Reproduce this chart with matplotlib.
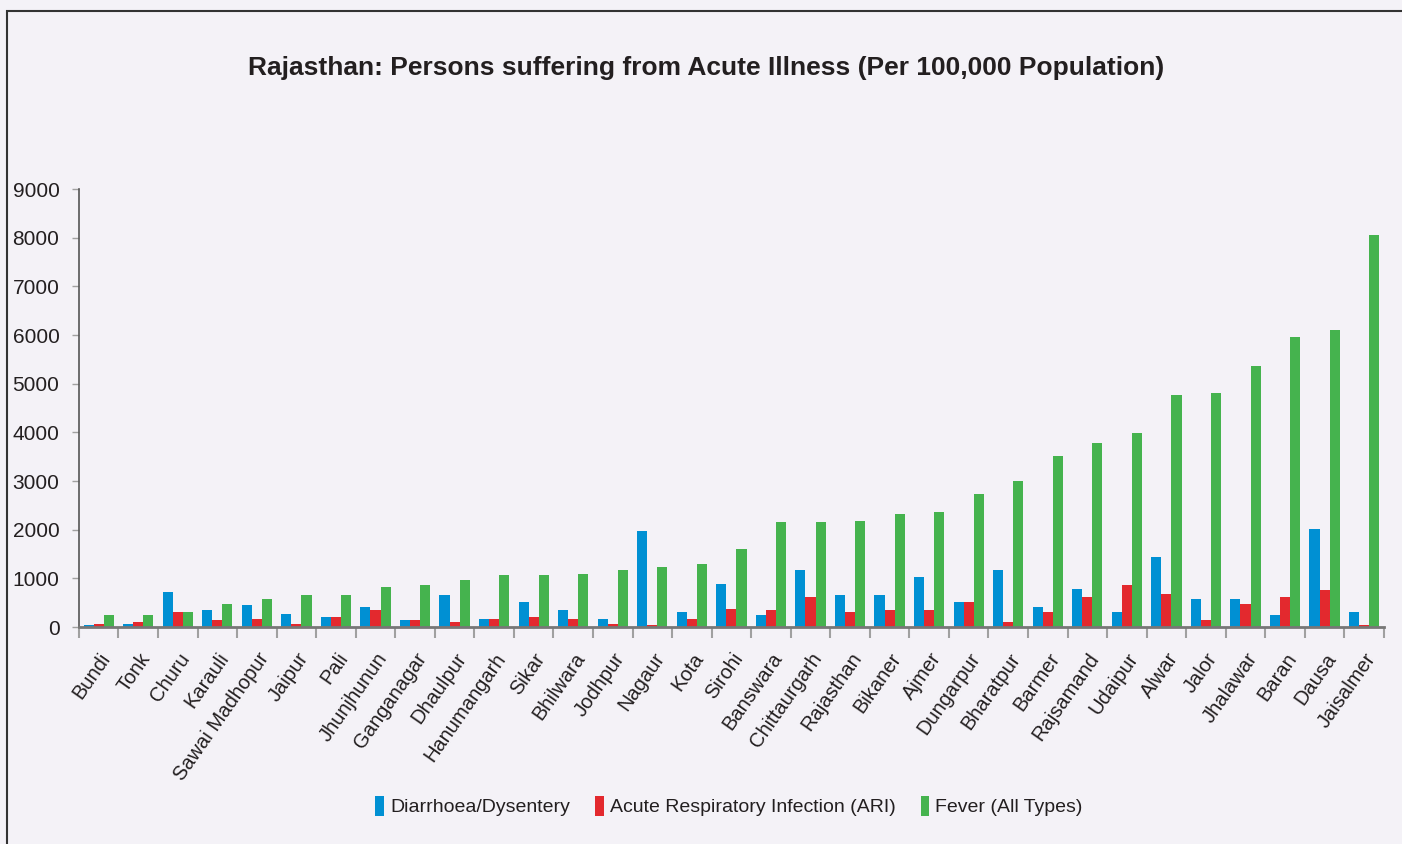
import matplotlib
matplotlib.use("Agg")
import matplotlib.pyplot as plt
import matplotlib.transforms as mtransforms
from matplotlib.patches import Rectangle
import numpy as np

# districts, sorted by fever rate
districts = ["Bundi", "Tonk", "Churu", "Karauli", "Sawai Madhopur", "Jaipur", "Pali",
             "Jhunjhunun", "Ganganagar", "Dhaulpur", "Hanumangarh", "Sikar", "Bhilwara",
             "Jodhpur", "Nagaur", "Kota", "Sirohi", "Banswara", "Chittaurgarh", "Rajasthan",
             "Bikaner", "Ajmer", "Dungarpur", "Bharatpur", "Barmer", "Rajsamand", "Udaipur",
             "Alwar", "Jalor", "Jhalawar", "Baran", "Dausa", "Jaisalmer"]

diarrhoea = [35, 55, 710, 340, 445, 260, 200, 405, 140, 650, 160, 510, 340, 160, 1970,
             300, 880, 240, 1165, 650, 650, 1020, 510, 1165, 405, 775, 300, 1430, 570,
             570, 240, 2010, 300]
ari = [55, 95, 300, 140, 160, 55, 200, 340, 140, 95, 160, 200, 160, 55, 35,
       160, 365, 340, 610, 300, 340, 340, 510, 95, 300, 610, 860, 670, 140,
       465, 610, 755, 35]
fever = [240, 240, 300, 465, 570, 650, 650, 815, 855, 960, 1065, 1065, 1080, 1165, 1225,
         1290, 1595, 2150, 2150, 2170, 2315, 2355, 2725, 2995, 3510, 3780, 3985, 4765, 4805,
         5360, 5955, 6100, 8050]

series_names = ["Diarrhoea/Dysentery", "Acute Respiratory Infection (ARI)", "Fever (All Types)"]
colors = ["#0090d3", "#e3292e", "#45b34e"]

bg = "#f4f2f7"
txt = "#231f20"
sans = ["Liberation Sans", "DejaVu Sans"]

fig = plt.figure(figsize=(14.02, 8.44), dpi=100, facecolor=bg)
ax = fig.add_axes([0.0563, 0.2571, 0.9308, 0.5189])
ax.set_facecolor(bg)

x = np.arange(len(districts))
w = 0.255
for i, vals in enumerate([diarrhoea, ari, fever]):
    ax.bar(x + (i - 1) * w, vals, width=w, color=colors[i], label=series_names[i], zorder=2)

ax.set_xlim(-0.5, len(districts) - 0.5)
ax.set_ylim(0, 9000)
ax.set_yticks(np.arange(0, 9001, 1000))
ax.set_yticklabels([str(v) for v in range(0, 9001, 1000)], family=sans, fontsize=15, color=txt)

ax.set_xticks(x)
ax.set_xticklabels(districts, rotation=55, ha="right", rotation_mode="anchor",
                   family=sans, fontsize=14.5, color=txt)
shift = mtransforms.ScaledTranslation(-6 / 100, 0, fig.dpi_scale_trans)
for lab in ax.get_xticklabels():
    lab.set_transform(lab.get_transform() + shift)
ax.set_xticks(np.arange(-0.5, len(districts), 1), minor=True)
ax.tick_params(axis="x", which="major", length=0, pad=16)
ax.tick_params(axis="x", which="minor", length=8, width=1.5, color="#a0a0a0")
ax.tick_params(axis="y", length=5, width=1, color="#a0a0a0", pad=9)

for s in ["top", "right"]:
    ax.spines[s].set_visible(False)
ax.spines["left"].set_color("#555555")
ax.spines["left"].set_linewidth(1.2)
ax.spines["bottom"].set_color("#777777")
ax.spines["bottom"].set_linewidth(2)

fig.text(0.5035, 0.919, "Rajasthan: Persons suffering from Acute Illness (Per 100,000 Population)",
         ha="center", va="center", fontsize=19, fontweight="bold", color=txt, family=sans)

leg = fig.legend(loc="center", bbox_to_anchor=(0.52, 0.045), ncol=3, frameon=False,
                 handlelength=0.45, handleheight=1.2, handletextpad=0.3, columnspacing=1.3,
                 prop={"family": sans, "size": 14})
for t in leg.get_texts():
    t.set_color(txt)

fig.patches.append(Rectangle((0.005, -0.2), 1.2, 1.187, transform=fig.transFigure,
                             fill=False, edgecolor="#333333", linewidth=1.5))

fig.savefig("out.png", dpi=100, facecolor=bg)
